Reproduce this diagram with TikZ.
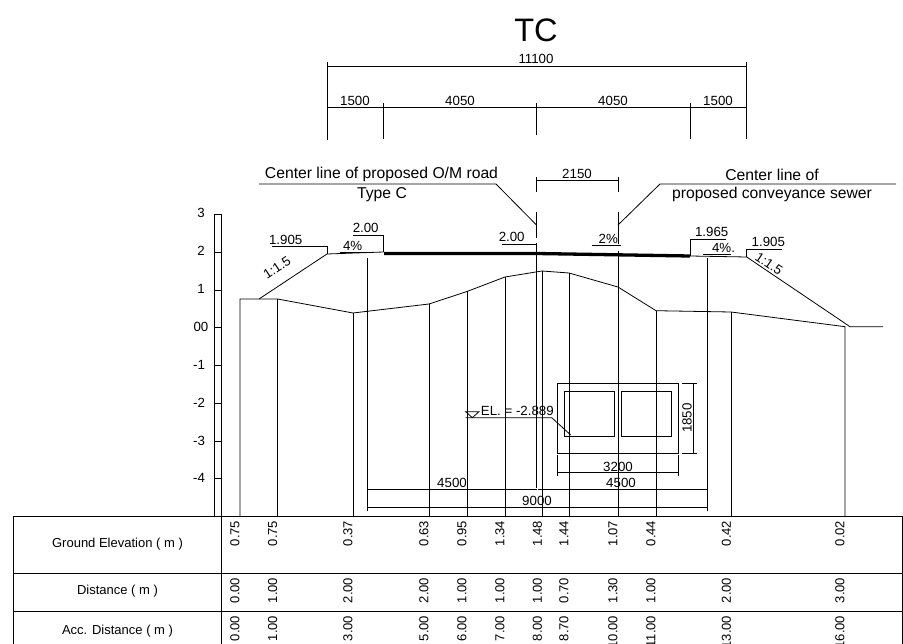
\documentclass[tikz,border=0pt]{standalone}
\usepackage{fontspec}
\setmainfont{Liberation Sans}

\tikzset{
  dimlabel/.style={inner sep=0pt, font=\fontsize{13.3}{13.3}\selectfont},
  notelabel/.style={inner sep=0pt, font=\fontsize{15.7}{15.7}\selectfont},
  tablelabel/.style={inner sep=0pt, font=\fontsize{13}{13}\selectfont},
  cellvalue/.style={inner sep=0pt, rotate=90, anchor=east, font=\fontsize{13}{13}\selectfont},
  thinline/.style={line width=0.8pt}
}

\begin{document}
\begin{tikzpicture}[x=1pt,y=-1pt,thinline]

\clip (0,0) rectangle (903,644);
\fill [white] (0,0) rectangle (903,644);

\node (title) at (536,30) {\fontsize{32.5}{32.5}\selectfont TC};

% top dimensions
\draw (327,66) -- (746,66);
\draw (327,62) -- (327,140);
\draw (746,62) -- (746,139);
\draw (327,107.5) -- (746,107.5);
\draw (383.5,103) -- (383.5,139);
\draw (536.5,103) -- (536.5,135);
\draw (690,103) -- (690,139);
\node [dimlabel] (d11100) at (536,59) {11100};
\node [dimlabel] (d1500a) at (355,101) {1500};
\node [dimlabel] (d4050a) at (460,101) {4050};
\node [dimlabel] (d4050b) at (613,101) {4050};
\node [dimlabel] (d1500b) at (718,101) {1500};

% center lines and notes
\draw (259,184) -- (496,184) -- (536.5,225);
\draw (896,184) -- (660,184) -- (618,225);
\draw (536.5,177) -- (536.5,192);
\draw (618,177) -- (618,192);
\draw (536.5,180.5) -- (618,180.5);
\draw (536.5,212) -- (536.5,238);
\draw (536.5,243) -- (536.5,488);
\draw (618,212) -- (618,244);
\draw (618,251) -- (618,516);
\node [dimlabel] (d2150) at (577,174) {2150};
\node [notelabel] (noteroad) at (381.5,174.5) {Center line of proposed O/M road};
\node [notelabel] (notetype) at (382,194.5) {Type C};
\node [notelabel] (notesewer) at (772,174.5) {Center line of};
\node [notelabel] (notesewerb) at (772,194) {proposed conveyance sewer};

% elevation scale
\draw (214,214) -- (221,214);
\draw (214,214) -- (214,516);
\draw (221,214) -- (221,644);
\draw (214,252) -- (221,252);
\draw (214,290) -- (221,290);
\draw (214,327) -- (221,327);
\draw (214,365) -- (221,365);
\draw (214,403) -- (221,403);
\draw (214,441) -- (221,441);
\draw (214,478) -- (221,478);
\node [dimlabel] (sc3) at (201,213) {3};
\node [dimlabel] (sc2) at (201,251) {2};
\node [dimlabel] (sc1) at (201,289) {1};
\node [dimlabel] (sc0) at (201,327) {00};
\node [dimlabel] (scm1) at (199,365) {-1};
\node [dimlabel] (scm2) at (199,403) {-2};
\node [dimlabel] (scm3) at (199,441) {-3};
\node [dimlabel] (scm4) at (199,478) {-4};

% road
\draw (259,299) -- (327,254) -- (383.5,252);
\draw [line width=3.3pt] (384,253.5) -- (536.5,253.5) -- (690,256);
\draw (690,256) -- (746.7,257) -- (850,326.7) -- (883,326.7);
\draw (367,258) -- (367,511);
\draw (707,258) -- (707,511);

% ground
\draw (240,516) -- (240,299) -- (277.6,299) -- (353,313) -- (429,304) -- (467,291.5)
  -- (505,277) -- (542,271) -- (569,273) -- (618,287) -- (656,310.7) -- (731,312)
  -- (845,326.7) -- (845,516);
\draw (277.6,299) -- (277.6,516);
\draw (353,313) -- (353,516);
\draw (429,304) -- (429,516);
\draw (467,291.5) -- (467,516);
\draw (505,277) -- (505,516);
\draw (542,271) -- (542,516);
\draw (569,273) -- (569,516);
\draw (656,310.7) -- (656,516);
\draw (731,312) -- (731,516);

% slopes and levels
\draw (272.3,246.7) -- (327,246.7) -- (327,254);
\draw (352.7,235.7) -- (383.5,235.7) -- (383.5,252);
\draw (340,252) -- (370,252);
\draw (501.7,244.3) -- (536.5,244.3);
\draw (591.7,245.3) -- (620.7,245.3);
\draw (690,256) -- (690,239) -- (726,239);
\draw (703.3,254.7) -- (731,254.7);
\draw (746.7,257) -- (746.7,249.3) -- (782.3,249.3);
\node [dimlabel] (lv1905a) at (285.7,240) {1.905};
\node [dimlabel] (lv200a) at (365.7,228) {2.00};
\node [dimlabel] (pc4a) at (352.7,245.7) {4\%};
\node [dimlabel] (lv200b) at (511.7,237.3) {2.00};
\node [dimlabel] (pc2) at (608.3,239.3) {2\%};
\node [dimlabel] (lv1965) at (711.7,232) {1.965};
\node [dimlabel] (pc4b) at (723.5,248.3) {4\%.};
\node [dimlabel] (lv1905b) at (768.3,242.3) {1.905};
\node [dimlabel, rotate=33.5] (slopea) at (277,268) {1:1.5};
\node [dimlabel, rotate=-34] (slopeb) at (769,264) {1:1.5};

% conveyance box
\draw (557.3,383.7) rectangle (678.7,453.5);
\draw (564.7,391.3) rectangle (614.3,436.7);
\draw (621.5,391.3) rectangle (671,436.7);
\draw (682,383.7) -- (697,383.7);
\draw (682,453.5) -- (697,453.5);
\draw (693,383.7) -- (693,453.5);
\draw (557.3,455) -- (557.3,476);
\draw (678.7,455) -- (678.7,476);
\draw (557.3,472.5) -- (678.7,472.5);
\node [dimlabel, rotate=90] (d1850) at (687,418) {1850};
\node [dimlabel] (d3200) at (618,466.5) {3200};

% invert level
\draw (465.7,411.7) -- (479,411.7) -- (472.3,417.7) -- cycle;
\draw (465.7,417.7) -- (551.7,417.7) -- (570.7,435);
\node [dimlabel, anchor=west] (elinv) at (480.5,411) {EL. = -2.889};

% bottom dimensions
\draw (367,489) -- (536.5,489);
\draw (538,489) -- (707,489);
\draw (367,507) -- (707,507);
\node [dimlabel] (d4500a) at (452,483) {4500};
\node [dimlabel] (d4500b) at (621,483) {4500};
\node [dimlabel] (d9000) at (537,501) {9000};

% table
\draw (13.5,516) -- (902.5,516);
\draw (13.5,573) -- (902.5,573);
\draw (13.5,611) -- (902.5,611);
\draw (13.5,516) -- (13.5,644);
\draw (902.5,516) -- (902.5,644);
\node [tablelabel] (rowground) at (117.5,544) {Ground Elevation ( m )};
\node [tablelabel] (rowdist) at (117.5,591.5) {Distance ( m )};
\node [tablelabel] (rowacc) at (117.5,631) {Acc. Distance ( m )};

\node [cellvalue] (ga) at (235,520.5) {0.75};
\node [cellvalue] (gb) at (272.6,520.5) {0.75};
\node [cellvalue] (gc) at (348,520.5) {0.37};
\node [cellvalue] (gd) at (424,520.5) {0.63};
\node [cellvalue] (ge) at (462,520.5) {0.95};
\node [cellvalue] (gf) at (500,520.5) {1.34};
\node [cellvalue] (gg) at (537.5,520.5) {1.48};
\node [cellvalue] (gh) at (564,520.5) {1.44};
\node [cellvalue] (gi) at (613,520.5) {1.07};
\node [cellvalue] (gj) at (651,520.5) {0.44};
\node [cellvalue] (gk) at (726.5,520.5) {0.42};
\node [cellvalue] (gl) at (840,520.5) {0.02};

\node [cellvalue] (da) at (235,577.5) {0.00};
\node [cellvalue] (db) at (272.6,577.5) {1.00};
\node [cellvalue] (dc) at (348,577.5) {2.00};
\node [cellvalue] (dd) at (424,577.5) {2.00};
\node [cellvalue] (de) at (462,577.5) {1.00};
\node [cellvalue] (df) at (500,577.5) {1.00};
\node [cellvalue] (dg) at (537.5,577.5) {1.00};
\node [cellvalue] (dh) at (564,577.5) {0.70};
\node [cellvalue] (di) at (613,577.5) {1.30};
\node [cellvalue] (dj) at (651,577.5) {1.00};
\node [cellvalue] (dk) at (726.5,577.5) {2.00};
\node [cellvalue] (dl) at (840,577.5) {3.00};

\node [cellvalue] (aa) at (235,615.5) {0.00};
\node [cellvalue] (ab) at (272.6,615.5) {1.00};
\node [cellvalue] (ac) at (348,615.5) {3.00};
\node [cellvalue] (ad) at (424,615.5) {5.00};
\node [cellvalue] (ae) at (462,615.5) {6.00};
\node [cellvalue] (af) at (500,615.5) {7.00};
\node [cellvalue] (ag) at (537.5,615.5) {8.00};
\node [cellvalue] (ah) at (564,615.5) {8.70};
\node [cellvalue] (ai) at (613,615.5) {10.00};
\node [cellvalue] (aj) at (651,615.5) {11.00};
\node [cellvalue] (ak) at (726.5,615.5) {13.00};
\node [cellvalue] (al) at (840,615.5) {16.00};

\end{tikzpicture}
\end{document}
